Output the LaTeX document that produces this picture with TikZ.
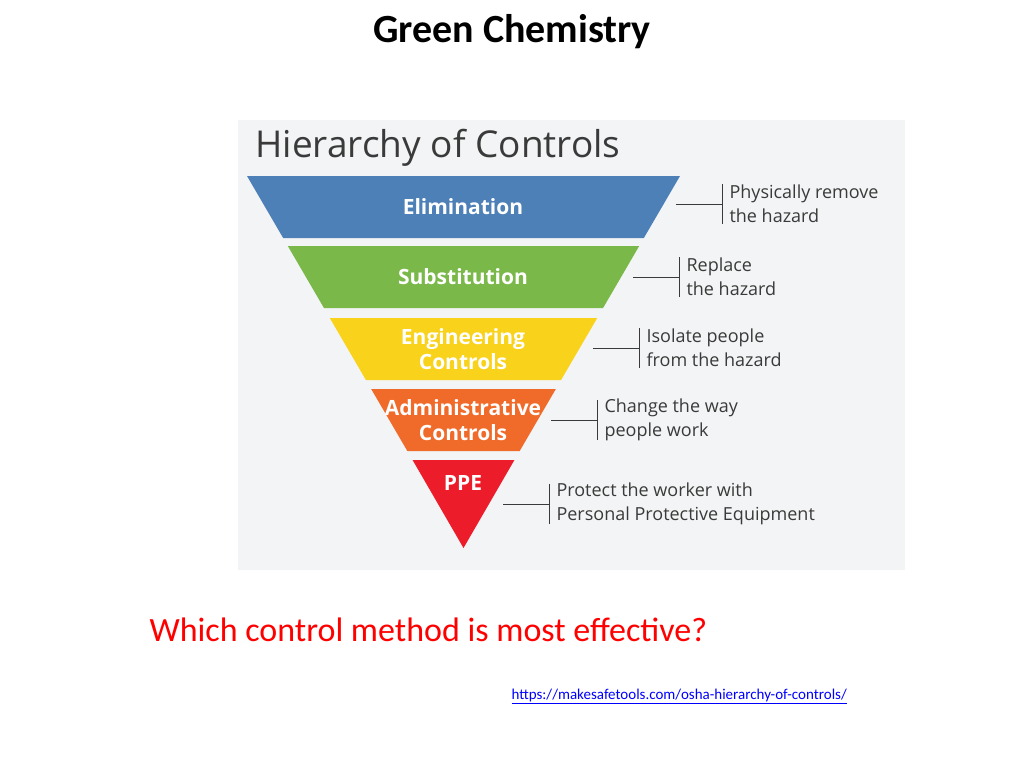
\documentclass[tikz,border=0pt]{standalone}
\usepackage{fontspec}
\setmainfont{Carlito}
\newfontfamily\infofont{Open Sans}
\usetikzlibrary{positioning}
\definecolor{elimblue}{HTML}{4C80B6}
\definecolor{substgreen}{HTML}{7BB84A}
\definecolor{enginyellow}{HTML}{F9D21B}
\definecolor{adminorange}{HTML}{F06A2A}
\definecolor{ppered}{HTML}{EC1C2A}
\definecolor{panelgray}{HTML}{F3F4F5}
\definecolor{inkgray}{HTML}{3A3A3A}
\tikzset{
  bandtext/.style={text=white,font=\infofont\bfseries\fontsize{21}{25}\selectfont,align=center},
  notetext/.style={text=inkgray,font=\infofont\fontsize{18}{24}\selectfont,align=left,anchor=west},
  bracket/.style={inkgray,line width=0.9pt}
}
% trapezoid band between two heights of the triangle
\newcommand{\band}[3]{%
  \fill[#3] ({247+0.583*(#1-176)},#1) -- ({680-0.583*(#1-176)},#1)
    -- ({680-0.583*(#2-176)},#2) -- ({247+0.583*(#2-176)},#2) -- cycle;}
\begin{document}
\begin{tikzpicture}[x=1pt,y=-1pt]
  \useasboundingbox[fill=white] (0,0) rectangle (1024,768);
  \node (title) at (512,32) {\fontsize{40}{44}\selectfont\bfseries Green Chemistry};
  \fill[panelgray] (238,120) rectangle (905,570);
  \node[anchor=west,text=inkgray] (head) at (252,148) {\infofont\fontsize{37}{42}\selectfont Hierarchy of Controls};
  % bands
  \band{176}{238}{elimblue}
  \band{246}{308}{substgreen}
  \band{318}{380}{enginyellow}
  \band{389}{451}{adminorange}
  \fill[ppered] ({247+0.583*(460-176)},460) -- ({680-0.583*(460-176)},460) -- (463.5,548) -- cycle;
  \node[bandtext] (elim) at (463,207) {Elimination};
  \node[bandtext] (subst) at (463,277) {Substitution};
  \node[bandtext] (engin) at (463,349) {Engineering\\Controls};
  \node[bandtext] (admin) at (463,420) {Administrative\\Controls};
  \node[bandtext] (ppe) at (463,483) {PPE};
  % notes
  \node[notetext] (n1) at (726,204) {Physically remove\\the hazard};
  \node[notetext] (n2) at (683,277) {Replace\\the hazard};
  \node[notetext] (n3) at (643,348) {Isolate people\\from the hazard};
  \node[notetext] (n4) at (601,420) {Change the way\\people work};
  \node[notetext] (n5) at (553,504) {Protect the worker with\\Personal Protective Equipment};
  \foreach \n/\len in {n1/46,n2/46,n3/46,n4/46,n5/46}{
    \draw[bracket] ([xshift=-4pt,yshift=-20pt]\n.west) -- ([xshift=-4pt,yshift=20pt]\n.west);
    \draw[bracket] ([xshift=-4pt]\n.west) -- ++(-\len,0);
  }
  \node[anchor=west,text=red] (ask) at (146,630) {\fontsize{34}{40}\selectfont Which control method is most effective?};
  \node[anchor=west,text=blue] (url) at (508,696) {\fontsize{15}{18}\selectfont\underline{https://makesafetools.com/osha-hierarchy-of-controls/}};
\end{tikzpicture}
\end{document}
